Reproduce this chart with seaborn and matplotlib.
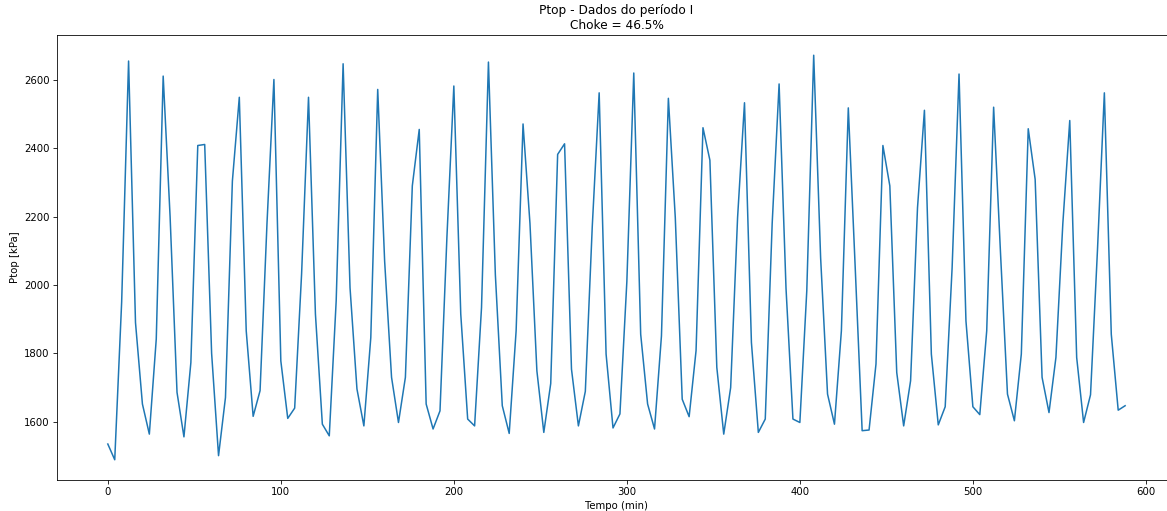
import matplotlib
matplotlib.use("Agg")
import matplotlib.pyplot as plt
import pandas as pd
import seaborn as sns

# sampled every 4 minutes
tempo_min = list(range(0, 589, 4))

ptop_kpa = [
    1535, 1489, 1950, 2655, 1890, 1652, 1564, 1842, 2611, 2200,
    1686, 1556, 1773, 2408, 2411, 1800, 1501, 1671, 2304, 2549,
    1866, 1616, 1691, 2180, 2601, 1778, 1610, 1640, 2032, 2549,
    1915, 1593, 1559, 1954, 2647, 1992, 1696, 1588, 1846, 2572,
    2070, 1730, 1598, 1730, 2290, 2455, 1652, 1579, 1632, 2140,
    2582, 1915, 1608, 1588, 1934, 2652, 2030, 1647, 1566, 1866,
    2471, 2180, 1749, 1569, 1712, 2382, 2413, 1754, 1588, 1689,
    2170, 2562, 1798, 1582, 1623, 2010, 2620, 1856, 1652, 1579,
    1851, 2546, 2197, 1666, 1615, 1808, 2460, 2365, 1759, 1564,
    1700, 2197, 2533, 1832, 1569, 1608, 2180, 2588, 1990, 1608,
    1598, 1983, 2672, 2080, 1681, 1593, 1866, 2518, 2050, 1574,
    1576, 1769, 2408, 2290, 1744, 1588, 1720, 2226, 2511, 1798,
    1591, 1644, 2050, 2617, 1895, 1644, 1621, 1866, 2520, 2091,
    1681, 1603, 1798, 2457, 2309, 1730, 1627, 1788, 2180, 2481,
    1788, 1598, 1679, 2100, 2562, 1856, 1634, 1647,
]

titulo = "Ptop - Dados do período I\nChoke = 46.5%"

df = pd.DataFrame({"tempo": tempo_min, "ptop": ptop_kpa})

fig = plt.figure(figsize=(1167 / 73, 511 / 73), dpi=73)
# the original was cropped on the right, so the axes run past the edge
ax = fig.add_axes([0.0488, 0.0607, 0.9589, 0.8708])

sns.lineplot(data=df, x="tempo", y="ptop", color="#1f77b4", linewidth=1.5, ax=ax)

ax.set_title(titulo)
ax.set_xlabel("Tempo (min)")
ax.set_ylabel("Ptop [kPa]")

fig.savefig("out.png", dpi=73)
